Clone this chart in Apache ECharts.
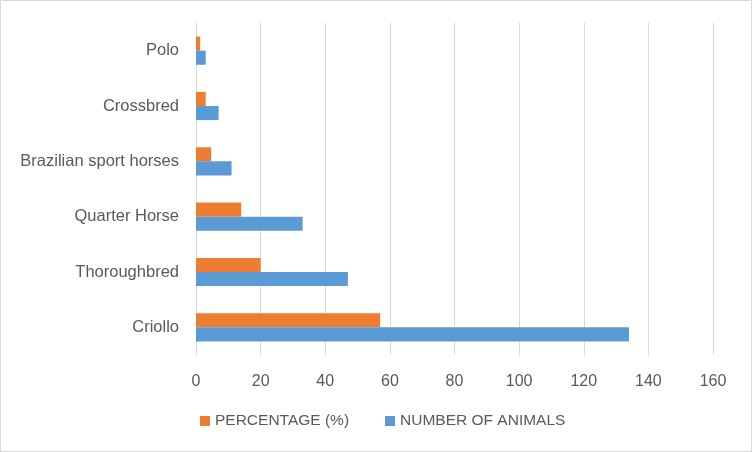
<!DOCTYPE html>
<html><head><meta charset="utf-8">
<script src="https://cdn.jsdelivr.net/npm/echarts@6/dist/echarts.min.js"></script>
<style>html,body{margin:0;padding:0;background:#fff}#c{width:752px;height:452px;box-sizing:border-box;border:1px solid #d9d9d9}</style>
</head><body><div id="c"></div>
<script>
const categories = ['Criollo','Thoroughbred','Quarter Horse','Brazilian sport horses','Crossbred','Polo'];
const percentage = [57.0, 20.0, 14.0, 4.7, 3.0, 1.3];
const numberOfAnimals = [134, 47, 33, 11, 7, 3];
const xTicks = [0,20,40,60,80,100,120,140,160];
const chart = echarts.init(document.getElementById('c'));
const font = 'Liberation Sans, Arial, sans-serif';
chart.setOption({
  animation:false,
  grid:{left:195,right:38,top:22,bottom:96},
  legend:{data:['PERCENTAGE (%)','NUMBER OF ANIMALS'],bottom:17,left:194,itemWidth:10,itemHeight:10,itemGap:36,icon:'rect',
    textStyle:{color:'#595959',fontSize:15.5,fontFamily:font}},
  xAxis:{type:'value',min:0,max:160,interval:20,
    axisLine:{show:false},axisTick:{show:false},
    splitLine:{lineStyle:{color:'#d9d9d9'}},
    axisLabel:{color:'#595959',fontSize:16,fontFamily:font,margin:19}},
  yAxis:{type:'category',data:categories,
    axisLine:{show:false},axisTick:{show:false},
    axisLabel:{color:'#595959',fontSize:16.5,fontFamily:font,margin:17}},
  series:[
    {name:'PERCENTAGE (%)',type:'bar',data:percentage,itemStyle:{color:'#ED7D31'},barGap:'0%',barCategoryGap:'49%'},
    {name:'NUMBER OF ANIMALS',type:'bar',data:numberOfAnimals,itemStyle:{color:'#5B9BD5'},barGap:'0%',barCategoryGap:'49%'}
  ]
});
</script></body></html>
